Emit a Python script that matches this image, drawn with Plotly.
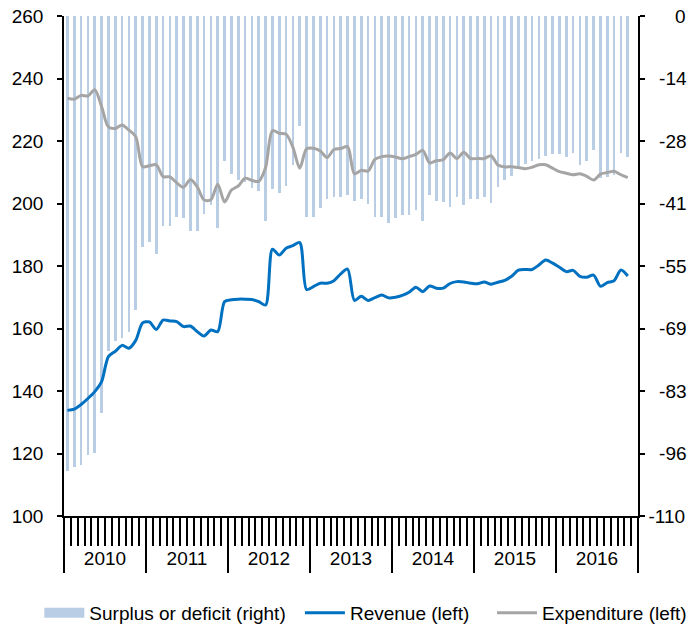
import plotly.graph_objects as go

# Monthly observations, Jan 2010 - Nov 2016
months = [f"{y}-{m:02d}" for y in range(2010, 2017) for m in range(1, 13)][:83]

deficit = [
    -100.0, -99.3, -98.7, -96.5, -96.2, -87.4, -73.7, -71.4, -70.8, -69.6, -64.7, -50.8,
    -49.8, -52.4, -46.1, -46.1, -44.2, -44.5, -47.2, -47.2, -43.5, -41.6, -46.7, -31.8,
    -34.8, -36.1, -36.5, -37.9, -38.4, -45.1, -38.1, -39.0, -37.3, -32.8, -24.2, -44.2,
    -44.2, -42.3, -40.3, -39.8, -39.8, -39.4, -40.6, -40.3, -41.4, -44.2, -44.2, -45.5,
    -44.5, -43.8, -43.8, -42.7, -45.1, -39.4, -40.6, -41.0, -42.0, -39.8, -41.6, -40.3,
    -40.3, -39.8, -41.2, -37.7, -36.1, -35.3, -33.0, -32.5, -32.0, -31.5, -30.8, -30.3,
    -30.3, -31.0, -30.2, -32.8, -32.0, -29.5, -35.7, -35.5, -35.0, -30.2, -31.0,
]

revenue = [
    133.8, 134.2, 135.7, 137.6, 139.8, 143.0, 151.0, 152.7, 154.6, 153.7, 156.2, 161.8,
    162.1, 159.7, 162.7, 162.4, 162.2, 160.6, 160.8, 159.0, 157.6, 159.5, 159.0, 168.6,
    169.2, 169.4, 169.4, 169.3, 168.6, 167.5, 185.4, 183.5, 185.7, 186.5, 187.5, 172.5,
    173.4, 174.5, 174.5, 175.3, 177.5, 179.0, 169.0, 170.3, 169.0, 169.9, 170.7, 169.8,
    170.0, 170.6, 171.6, 173.2, 171.8, 173.6, 172.9, 172.9, 174.4, 175.0, 174.9, 174.5,
    174.3, 174.9, 174.2, 174.8, 175.4, 176.7, 178.7, 178.9, 178.9, 180.3, 181.9, 180.9,
    179.6, 178.2, 178.6, 176.7, 176.4, 177.1, 173.5, 174.7, 175.3, 178.7, 176.8,
]

expenditure = [
    233.7, 233.4, 234.6, 234.4, 236.4, 231.0, 224.5, 224.0, 225.1, 223.5, 221.4, 211.8,
    212.1, 212.4, 208.6, 208.5, 206.6, 205.2, 207.7, 205.3, 201.1, 201.2, 206.2, 200.5,
    204.3, 205.6, 208.1, 207.4, 207.1, 211.5, 223.3, 222.5, 222.2, 218.0, 211.3, 217.5,
    217.7, 216.8, 214.7, 217.3, 217.6, 218.2, 209.5, 210.6, 210.4, 214.1, 215.0, 215.2,
    214.9, 214.3, 215.0, 215.7, 217.0, 213.0, 213.7, 214.0, 216.2, 214.4, 216.4, 214.4,
    214.4, 214.4, 215.3, 212.3, 211.7, 211.8, 211.5, 211.1, 211.6, 212.4, 212.4, 211.3,
    210.2, 209.7, 209.2, 209.5, 208.7, 207.5, 209.4, 209.9, 210.3, 209.2, 208.3,
]

years = ["2010", "2011", "2012", "2013", "2014", "2015", "2016"]
right_tick_labels = ["0", "-14", "-28", "-41", "-55", "-69", "-83", "-96", "-110"]
left_tick_values = [100, 120, 140, 160, 180, 200, 220, 240, 260]

BAR_COLOR = "#B9CDE5"
REV_COLOR = "#0070C0"
EXP_COLOR = "#A5A5A5"
FONT = "Liberation Sans, Arial, sans-serif"

x = list(range(len(months)))
n_slots = 12 * len(years)
right_tick_values = [-110 * k / 8 for k in range(9)]


def right_align(label):
    """Pad a right-axis label with figure spaces so the column is right-aligned."""
    digits = sum(c.isdigit() for c in label)
    s = "\u2007" * (3 - digits)
    if "-" not in label:
        s += "\u2008"
    return s + label


right_text = [right_align(t) for t in right_tick_labels]

fig = go.Figure()
# deficit bars hang from zero on the right-hand scale (base layer)
fig.add_trace(go.Bar(
    x=x, y=deficit, xaxis="x", yaxis="y", width=0.38,
    marker=dict(color=BAR_COLOR, line=dict(width=0)),
    name="Surplus or deficit (right)", showlegend=False,
))
# legend key for the bars, drawn as a wide swatch
fig.add_trace(go.Scatter(
    x=[None], y=[None], xaxis="x", yaxis="y", mode="lines",
    line=dict(color=BAR_COLOR, width=13),
    name="Surplus or deficit (right)", legend="legend",
))
# revenue and expenditure on the left-hand scale (overlay layer, above the bars)
fig.add_trace(go.Scatter(
    x=x, y=revenue, xaxis="x2", yaxis="y2", mode="lines",
    line=dict(color=REV_COLOR, width=3, shape="spline", smoothing=0.8),
    name="Revenue (left)", legend="legend2",
))
fig.add_trace(go.Scatter(
    x=x, y=expenditure, xaxis="x2", yaxis="y2", mode="lines",
    line=dict(color=EXP_COLOR, width=3, shape="spline", smoothing=0.8),
    name="Expenditure (left)", legend="legend3",
))

year_bounds = [12 * i - 0.5 for i in range(len(years) + 1)]
month_bounds = [i - 0.5 for i in range(n_slots + 1)]
year_centers = [12 * i + 5.5 for i in range(len(years))]
x_range = [-0.5, n_slots - 0.5]

legend_style = dict(
    orientation="h", xanchor="left", y=-0.194, yanchor="middle",
    font=dict(size=19), bgcolor="rgba(0,0,0,0)", itemwidth=40,
)

fig.update_layout(
    width=687, height=629,
    margin=dict(l=64, r=49, t=16, b=113, autoexpand=False),
    paper_bgcolor="white", plot_bgcolor="white",
    font=dict(family=FONT, size=19, color="black"),
    showlegend=True,
    bargap=0,
    xaxis=dict(
        range=x_range, showgrid=False, zeroline=False, automargin=False,
        showline=True, linecolor="black", linewidth=1.5,
        tickmode="array", tickvals=year_bounds, showticklabels=False,
        ticks="outside", ticklen=55, tickwidth=1.5, tickcolor="black",
        minor=dict(tickvals=month_bounds, ticks="outside", ticklen=28,
                   tickwidth=1.5, tickcolor="black"),
    ),
    xaxis2=dict(
        overlaying="x", anchor="y2", side="bottom", automargin=False,
        range=x_range, showgrid=False, zeroline=False, showline=False,
        tickmode="array", tickvals=year_centers, ticktext=years,
        ticks="outside", ticklen=25, tickcolor="rgba(0,0,0,0)",
    ),
    yaxis=dict(
        side="right", range=[-110, 0], showgrid=False, zeroline=False, automargin=False,
        showline=True, linecolor="black", linewidth=1.5,
        tickmode="array", tickvals=right_tick_values, ticktext=right_text,
        ticks="outside", ticklen=5, tickwidth=1.5, tickcolor="black",
    ),
    yaxis2=dict(
        overlaying="y", side="left", range=[100, 260], showgrid=False, zeroline=False,
        automargin=False,
        showline=True, linecolor="black", linewidth=1.5,
        tickmode="array", tickvals=left_tick_values,
        ticks="outside", ticklen=5, tickwidth=1.5, tickcolor="black",
        ticklabelstandoff=10,
    ),
    legend=dict(x=-0.043, **legend_style),
    legend2=dict(x=0.411, **legend_style),
    legend3=dict(x=0.7456, **legend_style),
)

fig.write_html("out.html")
